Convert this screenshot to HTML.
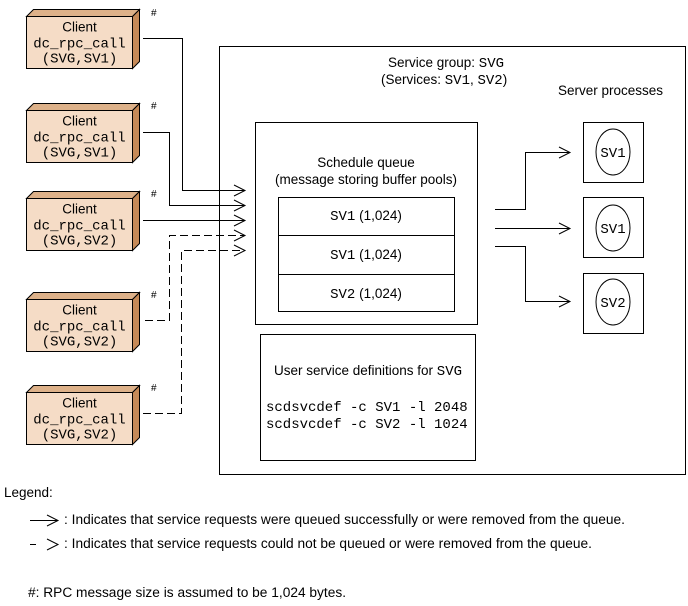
<!DOCTYPE html>
<html><head><meta charset="utf-8"><style>
html,body{margin:0;padding:0;background:#fff;}
svg{display:block;}
text{font-family:"Liberation Sans",sans-serif;font-size:13.5px;fill:#000;}
.m{font-family:"Liberation Mono",monospace;font-size:14px;}
</style></head><body>
<svg width="688" height="606" viewBox="0 0 688 606" xmlns="http://www.w3.org/2000/svg">
<defs>
<g id="cl">
<polygon points="0,7 7,0 113,0 106,7" fill="#ddb189" stroke="#000" stroke-width="1"/>
<polygon points="106,7 113,0 113,52 106,59" fill="#c68a58" stroke="#000" stroke-width="1"/>
<rect x="0" y="7" width="106" height="52" fill="#f5dcc6" stroke="#000" stroke-width="1"/>
<text x="53" y="22" text-anchor="middle">Client</text>
<text x="53" y="38" text-anchor="middle" class="m">dc_rpc_call</text>
</g>
</defs>
<g transform="translate(26.5,9.5)"><use href="#cl"/><text x="53" y="53" text-anchor="middle" class="m">(SVG,SV1)</text></g>
<g transform="translate(26.5,103.5)"><use href="#cl"/><text x="53" y="53" text-anchor="middle" class="m">(SVG,SV1)</text></g>
<g transform="translate(26.5,191.5)"><use href="#cl"/><text x="53" y="53" text-anchor="middle" class="m">(SVG,SV2)</text></g>
<g transform="translate(26.5,292.5)"><use href="#cl"/><text x="53" y="53" text-anchor="middle" class="m">(SVG,SV2)</text></g>
<g transform="translate(26.5,385.5)"><use href="#cl"/><text x="53" y="53" text-anchor="middle" class="m">(SVG,SV2)</text></g>
<text x="151" y="16" style="font-size:10px">#</text>
<text x="151" y="109" style="font-size:10px">#</text>
<text x="151" y="197" style="font-size:10px">#</text>
<text x="151" y="298" style="font-size:10px">#</text>
<text x="151" y="391" style="font-size:10px">#</text>
<g fill="none" stroke="#000" stroke-width="1">
<rect x="219.5" y="46.5" width="466" height="428"/>
<rect x="255.5" y="122.5" width="222" height="202"/>
<rect x="278.5" y="197.5" width="176" height="114"/>
<line x1="278" y1="235.5" x2="455" y2="235.5"/>
<line x1="278" y1="274.5" x2="455" y2="274.5"/>
<rect x="260.5" y="334.5" width="215" height="126"/>
<rect x="583.5" y="122.5" width="60" height="60"/>
<rect x="583.5" y="197.5" width="60" height="60"/>
<rect x="583.5" y="273.5" width="60" height="60"/>
<ellipse cx="613" cy="152" rx="17" ry="23"/>
<ellipse cx="613" cy="228" rx="17" ry="23"/>
<ellipse cx="613" cy="302" rx="17" ry="23"/>
<polyline points="143,38.5 182.5,38.5 182.5,190.5 245,190.5"/>
<polyline points="143,132.5 169.5,132.5 169.5,205.5 245,205.5"/>
<polyline points="143,220.5 245,220.5"/>
<polyline points="145,320.5 169.5,320.5 169.5,235.5 245,235.5" stroke-dasharray="8,4"/>
<polyline points="143,413.5 181.5,413.5 181.5,250.5 245,250.5" stroke-dasharray="8,4"/>
<polyline points="234,185 245,190.5 234,196"/>
<polyline points="234,200 245,205.5 234,211"/>
<polyline points="234,215 245,220.5 234,226"/>
<polyline points="234,230 245,235.5 234,241"/>
<polyline points="234,245 245,250.5 234,256"/>
<polyline points="495,209.5 525.5,209.5 525.5,152.5 570,152.5"/>
<polyline points="495,228.5 570,228.5"/>
<polyline points="495,246.5 525.5,246.5 525.5,301.5 570,301.5"/>
<polyline points="559,147 570,152.5 559,158"/>
<polyline points="559,223 570,228.5 559,234"/>
<polyline points="559,296 570,301.5 559,307"/>
<line x1="30" y1="520.5" x2="58" y2="520.5"/>
<polyline points="47,515 58,520.5 47,526"/>
<line x1="30" y1="544.5" x2="36" y2="544.5"/>
<polyline points="47,539 58,544.5 47,550"/>
</g>
<text x="388" y="67">Service group: <tspan class="m">SVG</tspan></text>
<text x="381" y="84">(Services: <tspan class="m">SV1</tspan>, <tspan class="m">SV2</tspan>)</text>
<text x="558" y="95">Server processes</text>
<text x="366" y="167" text-anchor="middle">Schedule queue</text>
<text x="366" y="184" text-anchor="middle">(message storing buffer pools)</text>
<text x="366" y="220" text-anchor="middle"><tspan class="m">SV1</tspan> (1,024)</text>
<text x="366" y="259" text-anchor="middle"><tspan class="m">SV1</tspan> (1,024)</text>
<text x="366" y="298" text-anchor="middle"><tspan class="m">SV2</tspan> (1,024)</text>
<text x="613" y="157" text-anchor="middle" class="m">SV1</text>
<text x="613" y="233" text-anchor="middle" class="m">SV1</text>
<text x="613" y="307" text-anchor="middle" class="m">SV2</text>
<text x="368" y="375" text-anchor="middle">User service definitions for <tspan class="m">SVG</tspan></text>
<text x="266" y="411" class="m">scdsvcdef -c SV1 -l 2048</text>
<text x="266" y="428" class="m">scdsvcdef -c SV2 -l 1024</text>
<text x="4" y="497">Legend:</text>
<text x="64" y="524" textLength="561" lengthAdjust="spacingAndGlyphs">: Indicates that service requests were queued successfully or were removed from the queue.</text>
<text x="64" y="548" textLength="528" lengthAdjust="spacingAndGlyphs">: Indicates that service requests could not be queued or were removed from the queue.</text>
<text x="28" y="597" textLength="318" lengthAdjust="spacingAndGlyphs">#: RPC message size is assumed to be 1,024 bytes.</text>
</svg>
</body></html>
